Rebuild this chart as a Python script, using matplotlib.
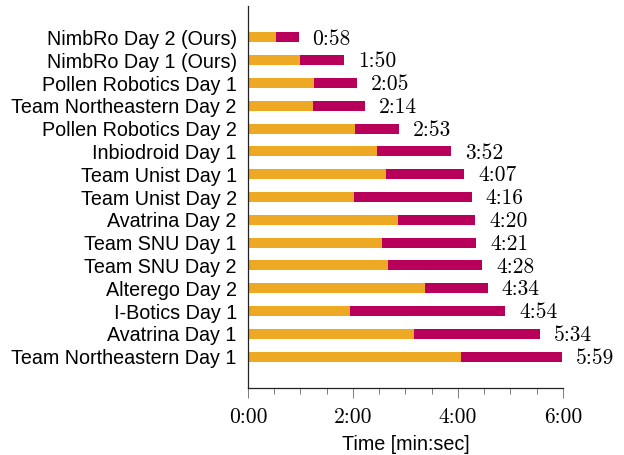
import matplotlib
matplotlib.use("Agg")
import matplotlib.pyplot as plt
from matplotlib.ticker import FixedLocator, MultipleLocator

teams = [
    "NimbRo Day 2 (Ours)", "NimbRo Day 1 (Ours)", "Pollen Robotics Day 1",
    "Team Northeastern Day 2", "Pollen Robotics Day 2", "Inbiodroid Day 1",
    "Team Unist Day 1", "Team Unist Day 2", "Avatrina Day 2", "Team SNU Day 1",
    "Team SNU Day 2", "Alterego Day 2", "I-Botics Day 1", "Avatrina Day 1",
    "Team Northeastern Day 1",
]
# total times in seconds
totals = [58, 110, 125, 134, 173, 232, 247, 256, 260, 261, 268, 274, 294, 334, 359]
# first segment (orange) in seconds, estimated
first_part = [32, 60, 75, 74, 122, 147, 158, 121, 171, 153, 160, 202, 117, 190, 243]
time_labels = ["0:58", "1:50", "2:05", "2:14", "2:53", "3:52", "4:07", "4:16",
               "4:20", "4:21", "4:28", "4:34", "4:54", "5:34", "5:59"]
xticks = [0, 120, 240, 360]
xticklabels = ["0:00", "2:00", "4:00", "6:00"]

orange = "#EDA924"
magenta = "#B8005A"

fig = plt.figure(figsize=(6.24, 4.55), dpi=100)
ax = fig.add_axes([0.3974, 0.1479, 0.9022 - 0.3974, 0.9875 - 0.1479])

n = len(teams)
ypos = [n - 1 - i for i in range(n)]
second_part = [t - f for t, f in zip(totals, first_part)]
h = 0.44
ax.barh(ypos, first_part, height=h, color=orange, edgecolor="none")
ax.barh(ypos, second_part, left=first_part, height=h, color=magenta, edgecolor="none")

for y, t, lab in zip(ypos, totals, time_labels):
    ax.annotate(lab, xy=(t, y), xytext=(10, -1), textcoords="offset points",
                va="center", ha="left", fontsize=15.5, family="cmr10",
                annotation_clip=False)

ax.set_xlim(0, 360)
ax.set_ylim(-1.36, n - 1 + 1.39)
ax.set_yticks(ypos)
ax.set_yticklabels(teams, fontsize=14.2, family="Liberation Sans")
ax.tick_params(axis="y", length=0, pad=8)

ax.xaxis.set_major_locator(FixedLocator(xticks))
ax.set_xticklabels(xticklabels, fontsize=15.5, family="cmr10")
ax.xaxis.set_minor_locator(MultipleLocator(30))
ax.tick_params(axis="x", which="major", length=7, width=0.6, color="#666666", pad=7)
ax.tick_params(axis="x", which="minor", length=4, width=0.6, color="#666666")

for s in ["top", "right"]:
    ax.spines[s].set_visible(False)
for s in ["left", "bottom"]:
    ax.spines[s].set_linewidth(0.9)
    ax.spines[s].set_color("#222222")

ax.set_xlabel("Time [min:sec]", fontsize=14.2, family="Liberation Sans", labelpad=6)

fig.savefig("out.png", dpi=100)
